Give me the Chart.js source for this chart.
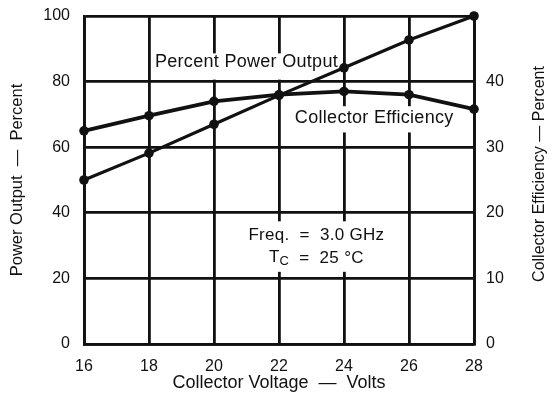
<!DOCTYPE html>
<html lang="en">
<head>
<meta charset="UTF-8">
<title>Power Output and Collector Efficiency vs Collector Voltage</title>
<script src="https://cdn.jsdelivr.net/npm/chart.js"></script>
<style>
    body {
        margin: 0;
        background: #fff;
    }

    .chart-box {
        width: 555px;
        height: 407px;
    }
</style>
</head>
<body>
<div class="chart-box"><canvas id="voltageChart"></canvas></div>
<script>
    // values
    const voltages = [16, 18, 20, 22, 24, 26, 28];
    const powerOutput = [50, 58.2, 67, 75.8, 84.2, 92.7, 100];
    const collectorEfficiency = [32.5, 34.8, 37, 38, 38.5, 38, 35.8];

    // tick labels (right axis has no label at the top)
    const voltageTicks = [16, 18, 20, 22, 24, 26, 28];
    const powerTicks = [0, 20, 40, 60, 80, 100];
    const efficiencyTicks = [0, 10, 20, 30, 40];

    const ink = '#111';
    const fontFamily = "'Liberation Sans', Arial, sans-serif";

    const useTicks = list => scale => { scale.ticks = list.map(v => ({ value: v })); };
    // fixed axis sizes so the plot sits where the datasheet has it
    const fixWidth = w => s => { s.width = w; s.paddingTop = 0; s.paddingBottom = 0; };

    // labels printed inside the grid, with white boxes behind them
    const notesPlugin = {
        id: 'notes',
        beforeDatasetsDraw(chart) {
            const ctx = chart.ctx;
            const x = chart.scales.x;
            const y = chart.scales.y;
            ctx.save();
            ctx.fillStyle = '#fff';
            // boxes that cut the grid lines
            const box = (x0, y0, x1, y1) => {
                const l = x.getPixelForValue(x0), r = x.getPixelForValue(x1);
                const t = y.getPixelForValue(y1), b = y.getPixelForValue(y0);
                ctx.fillRect(l, t, r - l, b - t);
            };
            box(18.3, 80.6, 23.9, 88.6);
            box(22.3, 64.5, 27.7, 72.5);
            box(21.5, 22, 24.7, 37.4);

            ctx.fillStyle = ink;
            ctx.textAlign = 'center';
            ctx.textBaseline = 'middle';
            ctx.letterSpacing = '0.3px';
            ctx.font = '18px ' + fontFamily;
            ctx.fillText('Percent Power Output', x.getPixelForValue(21.0), y.getPixelForValue(86));
            ctx.fillText('Collector Efficiency', x.getPixelForValue(24.93), y.getPixelForValue(68.8));
            ctx.font = '17px ' + fontFamily;
            ctx.fillText('Freq.  =  3.0 GHz', x.getPixelForValue(23.15), y.getPixelForValue(33));
            // T with subscript C
            const tx = x.getPixelForValue(23.15), ty = y.getPixelForValue(26);
            const main1 = 'T', sub = 'C', main2 = '  =  25 °C';
            ctx.font = '17px ' + fontFamily;
            const w1 = ctx.measureText(main1).width, w3 = ctx.measureText(main2).width;
            ctx.font = '13px ' + fontFamily;
            const w2 = ctx.measureText(sub).width;
            let cx = tx - (w1 + w2 + w3) / 2;
            ctx.textAlign = 'left';
            ctx.font = '17px ' + fontFamily;
            ctx.fillText(main1, cx, ty - 1);
            cx += w1;
            ctx.font = '13px ' + fontFamily;
            ctx.fillText(sub, cx, ty + 3);
            cx += w2;
            ctx.font = '17px ' + fontFamily;
            ctx.fillText(main2, cx, ty);
            ctx.restore();
        },
        afterDraw(chart) {
            // right axis title reads bottom to top
            const ctx = chart.ctx;
            const a = chart.chartArea;
            ctx.save();
            ctx.translate(540, (a.top + a.bottom) / 2 - 6);
            ctx.rotate(-Math.PI / 2);
            ctx.fillStyle = ink;
            ctx.font = '16px ' + fontFamily;
            ctx.textAlign = 'center';
            ctx.textBaseline = 'middle';
            ctx.fillText('Collector Efficiency — Percent', 0, 0);
            ctx.restore();
        }
    };

    const ctxVoltage = document.getElementById('voltageChart').getContext('2d');
    new Chart(ctxVoltage, {
        type: 'line',
        data: {
            labels: voltages,
            datasets: [{
                label: 'Percent Power Output',
                data: voltages.map((v, i) => ({ x: v, y: powerOutput[i] })),
                yAxisID: 'y',
                borderColor: ink,
                backgroundColor: ink,
                borderWidth: 3.2,
                pointRadius: 4.8,
                pointBorderWidth: 0,
                tension: 0,
                clip: false
            }, {
                label: 'Collector Efficiency',
                data: voltages.map((v, i) => ({ x: v, y: collectorEfficiency[i] })),
                yAxisID: 'y2',
                borderColor: ink,
                backgroundColor: ink,
                borderWidth: 3.8,
                pointRadius: 4.8,
                pointBorderWidth: 0,
                tension: 0,
                clip: false
            }]
        },
        options: {
            responsive: true,
            maintainAspectRatio: false,
            animation: false,
            layout: { padding: { top: 16, left: 0, right: 0, bottom: 0 } },
            plugins: {
                legend: { display: false },
                tooltip: { enabled: false }
            },
            scales: {
                x: {
                    type: 'linear',
                    min: 16,
                    max: 28,
                    afterBuildTicks: useTicks(voltageTicks),
                    afterFit: s => { s.height = 63; s.paddingLeft = 0; s.paddingRight = 0; },
                    grid: { color: ink, lineWidth: 2.8, drawTicks: false },
                    border: { display: true, color: ink, width: 2.8 },
                    ticks: { color: ink, padding: 13, font: { family: fontFamily, size: 16 } },
                    title: {
                        display: true,
                        text: 'Collector Voltage  —  Volts',
                        color: ink,
                        font: { family: fontFamily, size: 18 },
                        padding: { top: 0, bottom: 13 }
                    }
                },
                y: {
                    position: 'left',
                    min: 0,
                    max: 100,
                    afterBuildTicks: useTicks(powerTicks),
                    afterFit: fixWidth(84),
                    grid: { color: ink, lineWidth: 2.8, drawTicks: false },
                    border: { display: true, color: ink, width: 2.8 },
                    ticks: { color: ink, padding: 14, font: { family: fontFamily, size: 16 } },
                    title: {
                        display: true,
                        text: 'Power Output  —  Percent',
                        color: ink,
                        font: { family: fontFamily, size: 16.5 },
                        padding: { top: 8, bottom: 0 }
                    }
                },
                y2: {
                    position: 'right',
                    min: 0,
                    max: 50,
                    afterBuildTicks: useTicks(efficiencyTicks),
                    afterFit: fixWidth(81),
                    grid: { display: false, drawTicks: false },
                    border: { display: true, color: ink, width: 2.8 },
                    ticks: { color: ink, padding: 12, font: { family: fontFamily, size: 16 } }
                }
            }
        },
        plugins: [notesPlugin]
    });
</script>
</body>
</html>
